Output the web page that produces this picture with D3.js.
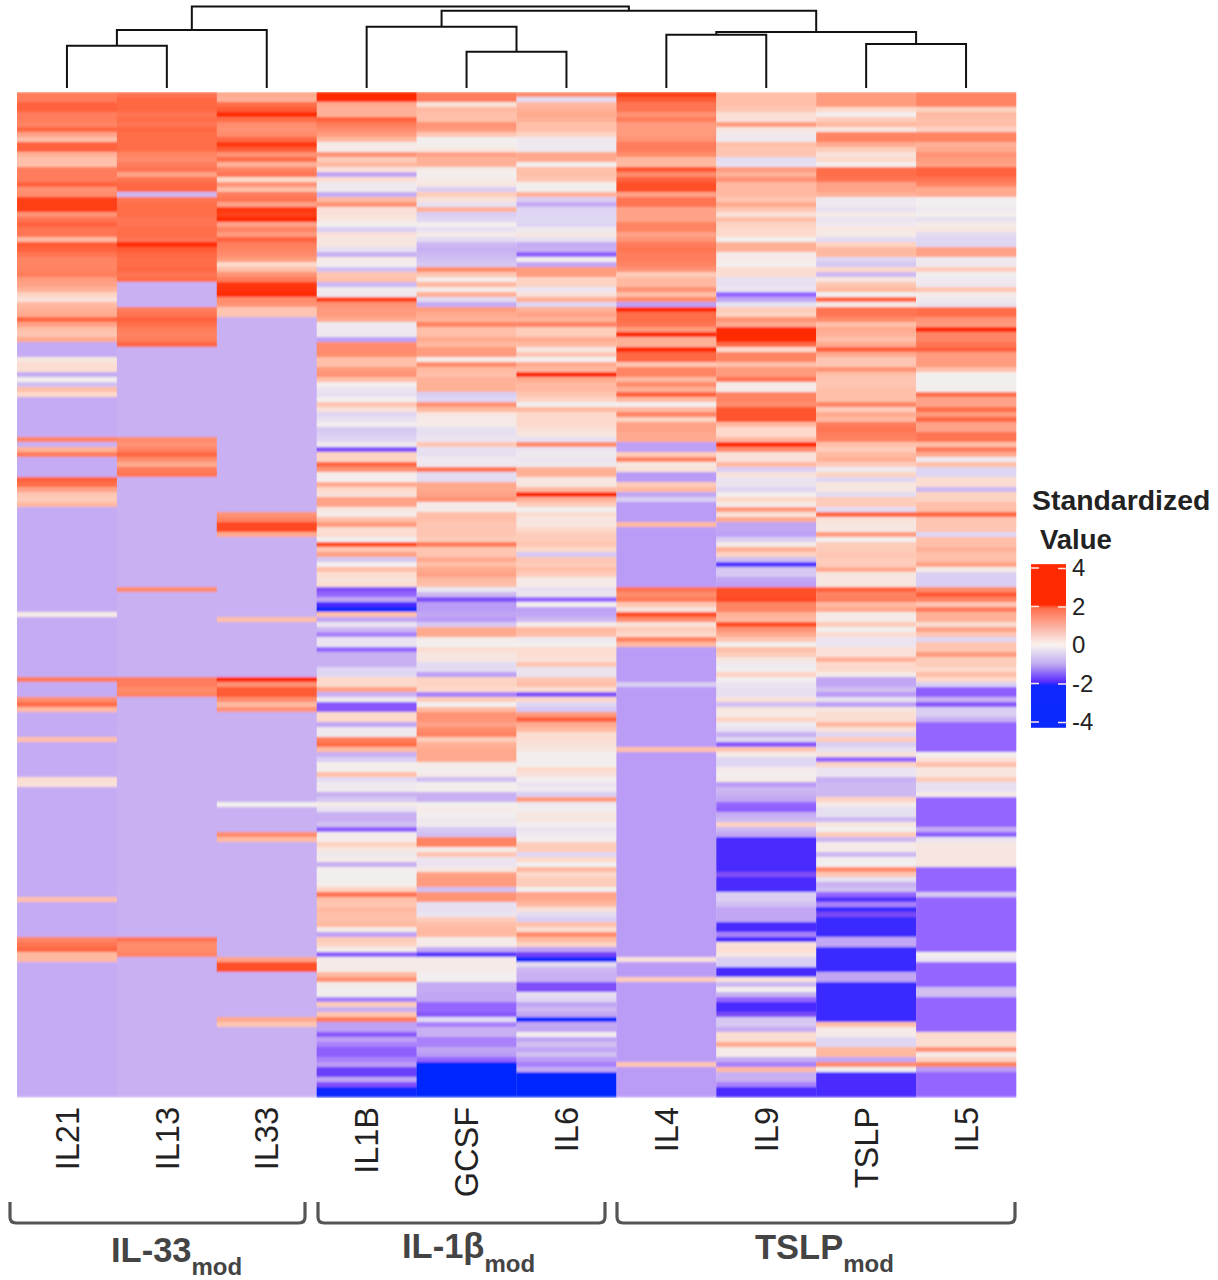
<!DOCTYPE html>
<html lang="en">
<head>
<meta charset="UTF-8">
<title>Standardized cytokine heatmap</title>
<style>
    body { margin: 0; background: #fff; }
    svg { display: block; font-family: "Liberation Sans", Arial, sans-serif; }
</style>
<script src="https://d3js.org/d3.v7.min.js"></script>
</head>
<body>
<svg id="chart" width="1218" height="1280"></svg>
<script>
const cytokines = ["IL21", "IL13", "IL33", "IL1B", "GCSF", "IL6", "IL4", "IL9", "TSLP", "IL5"];

const il21 = [
1.8,1.8,2.2,2.2,1.8,1.8,1.7,2.1,1.3,0.9,
2.2,2.2,1.1,0.9,0.9,1.8,1.8,1.8,2.2,1.5,
1.6,2.7,2.7,2.7,1.5,1.9,2.2,1.9,1.9,1.0,
2.3,2.2,1.9,1.7,1.7,1.7,1.8,1.4,1.3,1.1,
0.6,0.3,1.0,1.1,1.2,2.1,1.3,0.9,0.8,1.2,
-1.1,-1.1,-1.1,0.2,0.4,0.4,-1.1,0,-0.8,0.9,
0.5,-1.1,-1.1,-1.1,-1.1,-1.1,-1.1,-1.1,-1.1,1.7,
-1,1.1,1.8,-1.1,-1.1,-1.1,-1.1,2.2,2.0,1.3,
0.8,0.7,1.0,-1.1,-1.1,-1.1,-1.1,-1.1,-1.1,-1.1,
-1.1,-1.1,-1.1,-1.1,-1.1,-1.1,-1.1,-1.1,-1.1,-1.1,
-1.1,-1.1,-1.1,-1.1,0.1,-1.1,-1.1,-1.1,-1.1,-1.1,
-1.1,-1.1,-1.1,-1.1,-1.1,-1.1,-1.1,1.8,-1.1,-1.1,
-1.1,1.6,2.0,1.0,-1.1,-1.1,-1.1,-1.1,-1.1,0.9,
-1.1,-1.1,-1.1,-1.1,-1.1,-1.1,-1.1,0.4,0.3,-1.1,
-1.1,-1.1,-1.1,-1.1,-1.1,-1.1,-1.1,-1.1,-1.1,-1.1,
-1.1,-1.1,-1.1,-1.1,-1.1,-1.1,-1.1,-1.1,-1.1,-1.1,
-1.1,0.9,-1.1,-1.1,-1.1,-1.1,-1.1,-1.1,-1.1,1.7,
1.9,2.1,1.0,1.0,-1.1,-1.1,-1.1,-1.1,-1.1,-1.1,
-1.1,-1.1,-1.1,-1.1,-1.1,-1.1,-1.1,-1.1,-1.1,-1.1,
-1.1,-1.1,-1.1,-1.1,-1.1,-1.1,-1.1,-1.1,-1.1,-1.1,
-1.1];

const il13 = [
1.9,2.1,2.1,2.1,1.9,2.0,1.9,2.1,2.0,2.0,
2.0,2.0,1.7,1.6,1.8,1.9,1.3,1.9,2.1,2.1,
-0.9,1.9,2.0,2.0,2.0,1.9,1.9,2.0,2.0,1.9,
3.0,2.3,2.1,2.0,2.0,2.1,1.9,2.0,-1,-1,
-1,-1,-1,1.8,1.9,2.2,2.0,1.8,1.7,1.8,
2.1,-1,-1,-1,-1,-1,-1,-1,-1,-1,
-1,-1,-1,-1,-1,-1,-1,-1,-1,1.6,
1.5,1.7,2.1,1.6,1.2,1.8,1.9,-1,-1,-1,
-1,-1,-1,-1,-1,-1,-1,-1,-1,-1,
-1,-1,-1,-1,-1,-1,-1,-1,-1,1.6,
-1,-1,-1,-1,-1,-1,-1,-1,-1,-1,
-1,-1,-1,-1,-1,-1,-1,1.8,1.8,1.6,
1.7,-1,-1,-1,-1,-1,-1,-1,-1,-1,
-1,-1,-1,-1,-1,-1,-1,-1,-1,-1,
-1,-1,-1,-1,-1,-1,-1,-1,-1,-1,
-1,-1,-1,-1,-1,-1,-1,-1,-1,-1,
-1,-1,-1,-1,-1,-1,-1,-1,-1,1.9,
1.6,1.6,1.7,-1,-1,-1,-1,-1,-1,-1,
-1,-1,-1,-1,-1,-1,-1,-1,-1,-1,
-1,-1,-1,-1,-1,-1,-1,-1,-1,-1,
-1];

const il33 = [
1.2,1.1,2.0,2.3,3.0,2.0,1.6,1.5,1.6,2.1,
2.8,2.3,1.5,2.0,1.1,1.7,1.9,0.5,1.5,0.9,
1.8,1.9,1.3,2.8,2.7,3.1,1.3,1.7,1.4,2.2,
1.8,1.7,1.6,1.4,0.5,0.9,1.5,1.8,2.8,2.9,
3.1,1.6,1.5,0.8,0.8,-1,-1,-1,-1,-1,
-1,-1,-1,-1,-1,-1,-1,-1,-1,-1,
-1,-1,-1,-1,-1,-1,-1,-1,-1,-1,
-1,-1,-1,-1,-1,-1,-1,-1,-1,-1,
-1,-1,-1,-1,1.5,1.7,2.6,2.6,1.2,-1,
-1,-1,-1,-1,-1,-1,-1,-1,-1,-1,
-1,-1,-1,-1,-1,0.9,-1,-1,-1,-1,
-1,-1,-1,-1,-1,-1,-1,3.0,1.5,2.3,
2.3,1.6,1.0,1.5,-1,-1,-1,-1,-1,-1,
-1,-1,-1,-1,-1,-1,-1,-1,-1,-1,
-1,-1,0,-1,-1,-1,-1,-1,1.6,1.0,
-1,-1,-1,-1,-1,-1,-1,-1,-1,-1,
-1,-1,-1,-1,-1,-1,-1,-1,-1,-1,
-1,-1,-1,1.3,2.5,2.5,-1,-1,-1,-1,
-1,-1,-1,-1,-1,1.2,0.8,-1,-1,-1,
-1,-1,-1,-1,-1,-1,-1,-1,-1,-1,
-1];

const il1b = [
3,3,1.2,1.1,1.1,2.2,1.8,1.6,1.4,1.0,
0.1,0.1,1.5,0.7,1.0,0.3,-1.2,0.4,-0.1,-0.1,
-1.1,1.0,1.5,0.3,0.3,0.2,0,-0.6,0.3,0.2,
0.2,-0.3,-1,0.1,0,-0.8,0.8,0.9,-0.9,-0.1,
-0.1,2.7,1.5,1.4,1.4,1.2,-0.1,-0.1,-0.1,-1.3,
1.6,1.6,1.6,0.9,0.9,1.4,1.5,0.9,0,-0.2,
-0.3,0,0.8,0.3,-0.5,-0.3,0,-0.7,-0.6,-0.5,
-0.1,-1.9,0.6,0.6,2.1,1.5,0.1,0,1.2,0.5,
0.3,1.3,1.3,0.2,0.1,0.9,1.4,0.4,0.4,0,
2.5,0.8,1.3,-0.7,0,0.9,0.4,0.3,0.4,-1.9,
-1.6,-1.2,-2.6,-3,0.9,-1.2,-0.2,-0.9,-1.5,-0.2,
-0.2,-1.6,-1,-1,-1,-0.5,-0.5,0.5,0.5,1.3,
-1,-0.1,-1.8,-1.8,0.5,0.5,-1.2,-0.1,-0.1,1.8,
2.0,1.0,-1,-0.6,0,0,0.9,-0.4,-0.1,-0.1,
-1,-0.7,0.1,-0.3,-1,-1,-0.8,-1.7,0.05,0.05,
0.6,0.2,-0.1,0.1,-1,0,0,0,0.05,0.6,
1.9,0.9,0.8,1.0,0.9,0.9,1.0,0.1,-1.3,0.7,
0.6,0.1,-1.7,0.1,0.1,0.1,1.0,1.5,0.1,0,
0,-1.5,0.7,-1,0.8,1.8,-1.3,-1.3,-1.8,-1.3,
-1.5,-1.7,-1.7,-1.5,-1.4,-2.2,-2.2,-1.2,-1.9,-3.2,
-3.2];

const gcsf = [
1.8,1.8,0.3,1.0,0.9,0.9,1.5,1.4,0.8,0,
0,0.2,1.3,1.1,1.1,0.1,0,0.1,0.2,-0.6,
0.7,0.3,-0.3,1.1,-0.6,-0.5,0,-0.3,0.1,-0.4,
-0.9,-1,-0.9,-0.8,-0.7,1.6,0.8,0.1,1.0,0.1,
1.1,-0.4,-1.1,1.4,1.2,1.1,1.7,0.9,0.9,1.2,
1.0,1.4,1.4,0.1,1.6,1.0,0.9,1.1,1.1,1.1,
-0.6,-0.5,1.5,1.0,0.2,0.1,0.1,-0.3,-0.3,-0.2,
0.8,-0.3,-0.3,-0.1,-0.1,1.9,-0.4,-0.4,1.2,1.2,
1.3,1.5,0.1,0.1,0.9,0.9,0.8,0.8,0.8,0.7,
1.8,0.8,0.8,1.2,0.9,1.2,1.3,1.0,0.9,-0.2,
-0.9,-1.9,-1.4,-1.4,-1.2,-1.4,-0.7,1.2,1.2,0.1,
0,0.4,0.2,0.2,-0.4,-0.4,-1.3,0.6,0.6,0.5,
-1.5,0.7,0,1.0,1.5,1.5,1.3,1.6,1.7,0.7,
1.1,1.2,1.2,1.2,0.1,0,0.1,-0.8,0,0,
-1,-1,0,0.1,0,-0.1,-0.1,-0.7,-0.8,1.7,
1.7,0.1,0.8,-0.2,-0.2,0.2,1.3,1.4,1.4,-0.8,
1.5,1.5,-0.3,-0.3,-0.2,0.7,0.9,1.0,1.0,0.1,
0.1,-1.1,-2.4,0.1,0.1,0.1,0,0,-1.1,-1.1,
-1.2,-1.2,-1.6,-1.6,-1.8,-0.4,-1.5,-1,-1,-1.5,
-1.5,-1.2,-1.4,-1.6,-3.5,-3.5,-3.5,-3.5,-3.5,-3.5,
-3.5];

const il6 = [
1.6,-0.4,1.0,1.1,1.2,1.1,0.9,0.9,0.6,-0.1,
-0.1,-0.1,1.2,1.2,0,0.9,0.9,0.8,0,0,
1.1,-0.6,-1.1,-0.5,-0.5,-0.5,-0.5,-0.1,0.2,-0.3,
-1.1,-1,-1.7,0,-1.2,1.4,1.4,0.6,0.6,-0.2,
0.3,1.1,-0.5,1.1,1.3,1.1,1.7,0.7,0.7,1.2,
1.0,0.2,0.8,0,1.2,1.0,3.0,1.2,1.0,1.0,
0.8,0.6,0,1.0,0.5,0.5,0.5,0.3,0.2,-0.3,
1.6,-0.2,-0.1,-0.2,-0.1,1.1,1.1,0.2,0.2,1.0,
3.0,1.1,0.7,0,0.4,0.2,0.2,0.5,0.7,0.7,
0.8,0.5,-0.7,0.8,0.7,0.9,0.7,0.1,0.1,-0.3,
-0.2,-1.6,0,-1.3,-1.2,-0.9,0.1,1.0,0.9,-0.1,
0,0.4,0.4,0.3,0.8,-0.2,-0.2,0.8,0.9,0.4,
-1.9,0.5,-0.5,-0.7,1.4,2.2,1.2,1.0,0.4,0.4,
0.3,0.2,0,0,0,0.5,0.3,0,-0.2,-0.1,
-0.6,1.4,-0.1,0,0.2,0.2,0,-0.2,-0.1,0,
0.7,0.7,-0.5,0.5,0,1.0,0.5,0.7,0.7,0,
1.3,1.2,1.0,0.3,-0.4,-0.6,0.9,0.4,1.6,1.0,
0.6,-1.3,-2.1,-3.0,-0.4,-0.9,-1,-1,-1.9,-1.9,
-0.3,-0.5,-1.2,-0.9,-1.2,-3,-1.2,-1.2,0,-1.2,
-0.8,-1.2,-0.8,-1.4,-1.5,-1.1,-3.5,-3.5,-3.5,-3.5,
-3.5];

const il4 = [
2.7,2.3,1.9,1.9,1.5,1.8,1.4,1.4,1.4,1.5,
1.8,1.8,1.6,1.0,1.0,2.4,1.6,2.2,2.5,2.5,
1.3,1.9,1.9,1.3,1.3,1.3,1.7,1.7,1.3,1.5,
1.8,1.9,1.8,1.8,1.7,1.5,0.7,1.0,1.0,1.5,
0.9,1.6,-1.3,3.0,2.0,2.0,1.9,1.4,3.0,1.1,
1.1,3.0,2.1,2.1,0.8,1.7,1.7,1.0,1.6,1.1,
2.2,1.0,0,1.0,1.7,0.6,1.3,1.3,1.2,1.2,
-1.3,-1.3,0.7,1.7,0.2,0.3,-1.4,-1.4,0.7,1.0,
-1.2,-0.6,-1.4,-1.4,-1.4,-1.4,1.0,-1.4,-1.4,-1.4,
-1.4,-1.4,-1.4,-1.4,-1.4,-1.4,-1.4,-1.4,-1.4,1.9,
1.6,1.8,0.8,0.3,2.5,1.6,0.3,0.7,0.5,1.7,
1.0,-1.4,-1.4,-1.4,-1.4,-1.4,-1.4,-1.4,-0.6,-1.4,
-1.4,-1.4,-1.4,-1.4,-1.4,-1.4,-1.4,-1.4,-1.4,-1.4,
-1.4,0.9,-1.4,-1.4,-1.4,-1.4,-1.4,-1.4,-1.4,-1.4,
-1.4,-1.4,-1.4,-1.4,-1.4,-1.4,-1.4,-1.4,-1.4,-1.4,
-1.4,-1.4,-1.4,-1.4,-1.4,-1.4,-1.4,-1.4,-1.4,-1.4,
-1.4,-1.4,-1.4,-1.4,-1.4,-1.4,-1.4,-1.4,-1.4,-1.4,
-1.4,-1.4,-1.4,0.3,-1.4,-1.4,-1.4,0.7,-1.4,-1.4,
-1.4,-1.4,-1.4,-1.4,-1.4,-1.4,-1.4,-1.4,-1.4,-1.4,
-1.4,-1.4,-1.4,-1.4,0.8,-1.4,-1.4,-1.4,-1.4,-1.4,
-1.4];

const il9 = [
0.9,0.9,0.9,0.8,0.4,0.3,1.4,0.2,-0.1,-0.1,
0.9,0.8,0.8,-0.4,-0.3,1.4,1.1,1.5,1.0,1.0,
1.0,0.8,1.2,0.8,0.3,0.9,0.6,0.5,0.5,0,
1.1,1.1,0.1,0.1,0,0.4,0.4,-0.3,-0.3,-0.2,
-1.6,-1.2,-0.3,0.7,0.6,1.5,1.2,3,3,3,
2.1,0.5,1.7,1.7,0.9,1.4,1.4,1.9,0.1,0.1,
1.7,1.7,1.6,2.4,2.4,2.4,1.0,0.5,0.5,1.0,
3,1.6,0.3,0.3,1.0,-0.6,0.3,-0.2,-0.2,-0.5,
0,0.5,0.1,1.4,0.3,1.2,-1.2,-1.2,-1.3,-0.6,
0.1,1.1,0.6,-0.8,-2.5,-0.7,-0.7,-1.2,-1.3,2.5,
2.5,2.6,1.7,1.7,1.1,1.0,2.5,1.5,1.2,0.8,
0,0.9,0.7,0.2,-0.1,0,0.6,0,-0.2,-0.3,
-0.3,0.3,-0.8,0.2,0.1,0.6,-0.1,-0.3,-1,-0.5,
-1.8,0.8,0.1,-0.5,-0.5,0.1,0,0.1,-1.4,-0.9,
-1,-1.2,-1.6,-1.7,-1.1,-0.9,0.6,-0.9,-1.2,-2.6,
-2.6,-2.6,-2.6,-2.6,-2.6,-2.6,-1.9,-2.6,-2.6,-2.6,
-0.6,-0.6,-0.8,-1.2,-1.2,-1.2,-2.6,-2.6,-1.5,-2.6,
0.3,0.4,0.2,-0.6,-0.6,-2.6,-2.6,0.3,-0.9,0,
-1,-1.6,-2.6,-2.6,-2,-0.7,-0.7,-1.1,0.4,0.4,
1.2,0.1,0.1,-1.1,-1.5,1.0,-1,-1,-1.5,-2.6,
-2.6];

const tslp = [
1.4,1.4,1.4,0.5,0,0.7,1.0,0.2,1.7,1.7,
1.2,0.7,0.3,0.5,0,2.0,2.0,1.9,1.3,1.3,
1.1,-0.1,-0.1,-0.3,0.1,-0.2,-0.1,0.2,0.1,-0.4,
0.6,1.0,1.0,-0.5,-0.7,0.5,-0.9,0.2,0.8,1.0,
0,2.1,0.1,1.9,1.9,1.6,0.9,1.2,1.1,0.9,
1.2,2.2,1.2,0.8,0.8,1.5,0.9,0.8,0.8,0.9,
0.9,0.9,1.7,0.7,1.2,1.0,1.8,1.9,1.8,1.7,
0.9,0.7,1.0,1.1,0.7,-0.1,0.6,-0.5,0.2,0.2,
-0.4,0.7,0.7,-0.4,2.1,0.3,0.2,0.2,1.4,0,
0.7,0.7,0.8,0.7,0.7,1.2,0.2,0.2,0.2,2.2,
1.7,1.8,1.0,1.2,0.1,0.1,0.7,0,0.4,-0.2,
-0.2,0.3,0.3,1.1,0.5,0.5,0.1,-1.2,-1.2,-0.8,
-1.4,-0.3,-1.3,0.2,0.4,0.4,1.0,0.3,-0.5,0.7,
-0.6,-0.3,0.3,-1.6,0.6,-0.2,-0.2,-1,-0.9,-0.9,
-0.9,0.6,0.1,-0.3,-0.3,-0.9,0.2,0,0.7,-0.9,
0.1,0.1,-0.9,0,0,1.6,0.8,-0.3,-1,-0.8,
-1.6,-2.5,-1.5,-2.7,-2,-2.7,-2.7,-2.7,-2.7,-1.2,
-1.2,-2.7,-2.7,-2.7,-2.7,-2.7,-1.2,-1.2,-2.7,-2.7,
-2.7,-2.7,-2.7,-2.7,-2.7,-2.7,0.9,0.1,0.1,-0.5,
-0.5,1.0,1.0,-1.2,1.6,0,-2.6,-2.6,-2.6,-2.6,
-2.6];

const il5 = [
1.7,1.7,1.7,0.6,1.0,0.9,0.9,0.6,1.7,1.7,
1.1,1.2,1.5,1.4,1.3,2.2,2.2,1.9,1.7,1.2,
1.2,0,0,-0.1,0,-0.3,0.1,0.2,-0.4,-0.5,
-0.5,1.3,1.3,-0.1,-0.1,0.7,0,-0.1,-0.1,0.8,
0.1,-0.1,-0.2,2.0,2.0,1.5,1.4,3.0,1.7,1.7,
1.9,2.2,1.4,1.4,1.4,0.9,0,0,0,0,
2.0,1.3,1.3,2.0,1.4,2.1,1.3,1.3,1.9,1.9,
0.9,1.8,1.2,-0.1,0.9,-0.5,-0.5,0.4,0.4,-0.9,
0.6,0.6,0.9,0.9,2.1,0.8,0.8,0.8,-0.5,0.9,
0.9,1.1,0.9,0.9,1.3,0.1,-0.6,-0.6,-0.6,1.6,
2.3,1.7,0.8,1.8,1.1,1.1,0.4,1.3,0.8,-0.5,
0.8,0.8,1.4,0.7,0.7,0.5,0.9,0.5,-0.6,-1.7,
-1.7,-1,-1.8,-0.6,-0.6,-1,-1.6,-1.6,-1.6,-1.6,
-1.6,-1.6,0,0.3,0.9,0.2,0.2,0.7,-0.3,-0.3,
0.1,-1.6,-1.6,-1.6,-1.6,-1.6,-1.6,-1.1,-1.7,-0.2,
0.2,0.2,0.2,0.2,0.2,-1.6,-1.6,-1.6,-1.6,-1.6,
-0.7,-1.6,-1.6,-1.6,-1.6,-1.6,-1.6,-1.6,-1.6,-1.6,
-1.6,-1.6,0,-0.2,-1.6,-1.6,-1.6,-1.6,-1.6,-0.8,
-0.8,-1.6,-1.6,-1.6,-1.6,-1.6,-1.6,-1.6,0.5,0.4,
0.4,1.5,0.1,0.6,1.7,-1.4,-1.6,-1.6,-1.6,-1.6,
-1.6];

const seriesValues = [il21, il13, il33, il1b, gcsf, il6, il4, il9, tslp, il5];

// hclust style merges: negative = leaf number (1 based), positive = earlier merge
const dendroMerges = [[-1, -2], [1, -3], [-5, -6], [-4, 3], [-7, -8], [-9, -10], [5, 6], [4, 7], [2, 8]];
const dendroHeights = [42.3, 58, 36.3, 61.3, 53.3, 44, 56, 77.3, 81.5];

const legendTicks = [4, 2, 0, -2, -4];
const groupNames = ["IL-33", "IL-1\u03b2", "TSLP"];

const svg = d3.select("#chart");

const x = d3.scaleBand().domain(cytokines).range([17, 1016]);
const y = d3.scaleBand().domain(d3.range(il21.length)).range([92, 1097]);

const color = d3.scaleLinear()
    .domain([-4, -3, -2.6, -2, -1.6, -1.4, -1, -0.5, 0, 0.5, 1, 1.5, 2, 2.5, 3, 4])
    .range(["#0028ff", "#0c28ff", "#4a2cff", "#7a48f6", "#9566ff", "#ba9bf6", "#c8b0f2", "#dfd6f3",
            "#f3eeee", "#fdd9cb", "#ffb9a1", "#ff9375", "#ff6e4a", "#ff4f28", "#ff2a00", "#ff2200"])
    .clamp(true);

const defs = svg.append("defs");

// the source image is a soft scan, a small blur brings the rows closer to it
defs.append("filter")
    .attr("id", "soft")
    .attr("x", 0).attr("y", 0).attr("width", 1).attr("height", 1)
    .append("feGaussianBlur")
    .attr("stdDeviation", "0.5 0.8");

// heatmap cells
const columns = svg.append("g")
    .attr("filter", "url(#soft)")
    .selectAll("g")
    .data(cytokines)
    .enter().append("g");

columns.selectAll("rect")
    .data((d, i) => seriesValues[i].map((v, r) => ({ name: d, row: r, value: v })))
    .enter().append("rect")
    .attr("x", d => x(d.name))
    .attr("y", d => y(d.row))
    .attr("width", x.bandwidth() + 0.3)
    .attr("height", y.bandwidth() + 0.3)
    .attr("fill", d => color(d.value));

// dendrogram on top
const dendroY = d3.scaleLinear().domain([0, 88]).range([88, 0]);
const nodes = [];
const dendro = svg.append("g").attr("fill", "none").attr("stroke", "#111").attr("stroke-width", 2);

function nodeOf(ref) {
    if (ref < 0) {
        const name = cytokines[-ref - 1];
        return { x: x(name) + x.bandwidth() / 2, h: 0 };
    }
    return nodes[ref - 1];
}

dendroMerges.forEach((m, i) => {
    const a = nodeOf(m[0]);
    const b = nodeOf(m[1]);
    const h = dendroHeights[i];
    const p = d3.path();
    p.moveTo(a.x, dendroY(a.h));
    p.lineTo(a.x, dendroY(h));
    p.lineTo(b.x, dendroY(h));
    p.lineTo(b.x, dendroY(b.h));
    dendro.append("path").attr("d", p.toString());
    nodes.push({ x: (a.x + b.x) / 2, h: h });
});

// column labels
const xAxis = svg.append("g")
    .attr("transform", "translate(0,1097)")
    .call(d3.axisBottom(x).tickSize(0));
xAxis.select(".domain").remove();
xAxis.selectAll("text")
    .attr("transform", "rotate(-90)")
    .attr("x", -10)
    .attr("y", 0)
    .attr("dy", "0.36em")
    .attr("text-anchor", "end")
    .attr("fill", "#222")
    .style("font-family", '"Liberation Sans", Arial, sans-serif')
    .style("font-size", "32.5px");

// brackets below the labels
const bracketSpans = [[10, 305], [318, 605], [617, 1015]];
svg.append("g").selectAll("path")
    .data(bracketSpans)
    .enter().append("path")
    .attr("fill", "none")
    .attr("stroke", "#555")
    .attr("stroke-width", 3.2)
    .attr("d", d => `M${d[0]},1202 V1217 Q${d[0]},1223 ${d[0] + 6},1223 H${d[1] - 6} Q${d[1]},1223 ${d[1]},1217 V1202`);

// group labels with subscript
const groupLabelPos = [[111, 1262, 13], [402, 1258, 14], [755, 1259, 13]];
groupNames.forEach((name, i) => {
    const pos = groupLabelPos[i];
    const t = svg.append("text")
        .attr("x", pos[0])
        .attr("y", pos[1])
        .attr("fill", "#444")
        .attr("font-weight", "bold")
        .attr("font-size", 34.5)
        .text(name);
    t.append("tspan")
        .attr("dy", pos[2])
        .attr("font-size", 24)
        .text("mod");
});

// legend
const legendY = d3.scaleLinear().domain([-4, 4]).range([722, 568]);
const legendStops = [[4.2, "#ff2a00"], [2.1, "#ff2a00"], [1.9, "#ff6f4e"], [0, "#f8f4f2"], [-1, "#bfaaf0"], [-1.9, "#5a2cff"], [-2.1, "#0f28ff"], [-4.3, "#0a28ff"]];

const grad = defs.append("linearGradient")
    .attr("id", "legendGrad")
    .attr("x1", 0).attr("x2", 0).attr("y1", 0).attr("y2", 1);
grad.selectAll("stop")
    .data(legendStops)
    .enter().append("stop")
    .attr("offset", d => (legendY(d[0]) - legendY(4.2)) / (legendY(-4.3) - legendY(4.2)))
    .attr("stop-color", d => d[1]);

svg.append("rect")
    .attr("x", 1031)
    .attr("y", legendY(4.2))
    .attr("width", 35)
    .attr("height", legendY(-4.3) - legendY(4.2))
    .attr("fill", "url(#legendGrad)");

const legendAxis = svg.append("g")
    .attr("transform", "translate(1066,0)")
    .call(d3.axisRight(legendY).tickValues(legendTicks).tickFormat(d => String(d)).tickSize(-8).tickPadding(6));
legendAxis.select(".domain").remove();
legendAxis.selectAll("line").attr("stroke", "#ffe9e0").attr("stroke-width", 1.5);
legendAxis.selectAll("text")
    .attr("fill", "#222")
    .style("font-family", '"Liberation Sans", Arial, sans-serif')
    .style("font-size", "24px");

svg.append("g").selectAll("line")
    .data(legendTicks)
    .enter().append("line")
    .attr("x1", 1031).attr("x2", 1039)
    .attr("y1", d => legendY(d)).attr("y2", d => legendY(d))
    .attr("stroke", "#ffe9e0").attr("stroke-width", 1.5);

svg.append("text")
    .attr("x", 1032).attr("y", 510)
    .attr("font-weight", "bold").attr("font-size", 28.4).attr("fill", "#222")
    .text("Standardized");
svg.append("text")
    .attr("x", 1040).attr("y", 548.5)
    .attr("font-weight", "bold").attr("font-size", 27.5).attr("fill", "#222")
    .text("Value");
</script>
</body>
</html>
